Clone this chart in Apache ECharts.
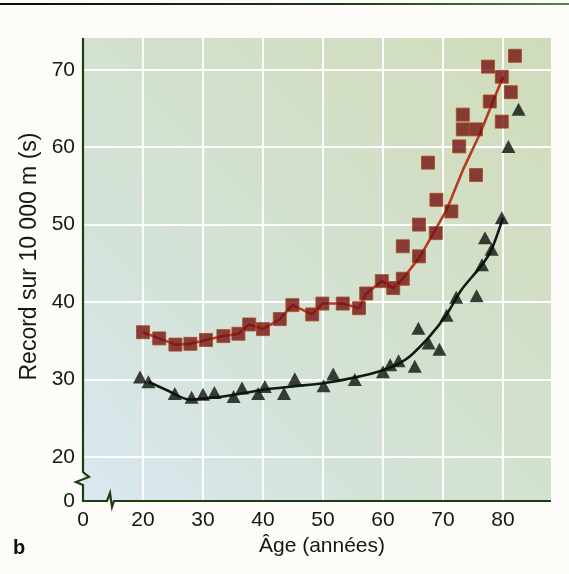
<!DOCTYPE html>
<html>
<head>
<meta charset="utf-8">
<script src="https://cdn.jsdelivr.net/npm/echarts@6/dist/echarts.min.js"></script>
<style>
  html, body { margin: 0; padding: 0; background: #fdfcf8; }
  #chart { width: 569px; height: 574px; }
</style>
</head>
<body>
<div id="chart"></div>
<script>
// axis range (the 0 labels sit on the axis break)
const xMin = 10, xMax = 88;
const yMin = 14.3, yMax = 74.1;

// squares : records (hommes, carrés rouges)
const ageSquares = [20, 22.7, 25.4, 27.9, 30.5, 33.4, 35.9, 37.7, 40.0, 42.8, 44.9, 48.2, 49.9, 53.3, 56.0, 57.2, 59.8, 61.7,
  63.3, 63.3, 66.0, 66.0, 67.5, 68.8, 68.9, 71.4, 72.7, 73.3, 73.3, 75.5, 75.5, 77.5, 77.8, 79.8, 79.8, 81.3, 82.0];
const recSquares = [36.1, 35.3, 34.5, 34.6, 35.1, 35.6, 35.9, 37.1, 36.5, 37.8, 39.6, 38.4, 39.8, 39.8, 39.2, 41.1, 42.7, 41.8,
  47.2, 43.0, 45.9, 50.0, 58.0, 48.9, 53.2, 51.7, 60.1, 62.3, 64.2, 62.3, 56.4, 70.4, 65.9, 69.1, 63.3, 67.1, 71.8];

// triangles
const ageTriangles = [19.5, 20.9, 25.3, 28.1, 30.0, 31.9, 35.1, 36.5, 39.2, 40.3, 43.5, 45.3, 50.1, 51.7, 55.3, 60.0, 61.2, 62.6,
  65.3, 65.9, 67.6, 69.4, 70.6, 72.2, 75.6, 76.5, 77.0, 78.1, 79.8, 80.9, 82.6];
const recTriangles = [30.3, 29.7, 28.2, 27.7, 28.1, 28.3, 27.8, 28.9, 28.2, 29.1, 28.2, 30.1, 29.2, 30.7, 30.0, 31.0, 31.9, 32.4,
  31.7, 36.6, 34.7, 33.9, 38.3, 40.6, 40.8, 44.8, 48.3, 46.8, 50.9, 60.1, 64.9];

// trend lines
const ageLineRed = [20, 22.7, 25.4, 27.9, 30.5, 33.4, 35.9, 37.7, 40.0, 42.8, 44.9, 48.2, 49.9, 53.3, 56.0, 57.2, 59.8, 61.7,
  63.3, 66.2, 68.4, 70.6, 73.4, 76.2, 80];
const recLineRed = [36.1, 35.3, 34.5, 34.6, 35.1, 35.6, 35.9, 37.1, 36.5, 37.8, 39.6, 38.4, 39.8, 39.8, 39.2, 41.1, 42.7, 41.8,
  43.0, 45.9, 48.9, 51.9, 57.2, 61.8, 69.1];
const ageLineBlack = [20.9, 24, 27.8, 31, 35, 40.3, 45, 50, 55, 60, 62.5, 64.5, 67.8, 70.6, 73, 76.5, 78.1, 80];
const recLineBlack = [29.7, 28.6, 27.4, 27.6, 28.0, 28.7, 29.1, 29.5, 30.2, 31.2, 32.0, 33.0, 35.6, 38.4, 41.5, 44.8, 46.8, 50.9];

const zip = (xs, ys) => xs.map((x, i) => [x, ys[i]]);

const textColor = '#131a0d';
const axisColor = '#1e3d10';

const chart = echarts.init(document.getElementById('chart'));

const option = {
  backgroundColor: '#fdfcf8',
  animation: false,
  grid: {
    left: 83,
    right: 18,
    top: 38,
    bottom: 73,
    show: true,
    borderWidth: 0,
    backgroundColor: new echarts.graphic.LinearGradient(0, 1, 1, 0, [
      { offset: 0, color: '#dae8f2' },
      { offset: 0.3, color: '#d4e3da' },
      { offset: 0.7, color: '#d2dfc6' },
      { offset: 1, color: '#cfdcb9' }
    ])
  },
  xAxis: {
    type: 'value',
    min: xMin,
    max: xMax,
    splitNumber: 8,
    name: 'Âge (années)',
    nameLocation: 'middle',
    nameGap: 35,
    nameTextStyle: { fontFamily: 'Liberation Sans', fontSize: 21, color: textColor, padding: [0, 0, 0, 10] },
    axisLine: { show: false },
    axisTick: { show: false },
    axisLabel: {
      fontFamily: 'Liberation Sans',
      fontSize: 21,
      color: textColor,
      margin: 9,
      showMaxLabel: false,
      formatter: v => (v === xMin ? '0' : String(v))
    },
    splitLine: { show: true, showMinLine: false, showMaxLine: false, lineStyle: { color: '#ffffff', width: 2 } }
  },
  yAxis: {
    type: 'value',
    min: yMin,
    max: yMax,
    splitNumber: 6,
    name: 'Record sur 10 000 m (s)',
    nameLocation: 'middle',
    nameGap: 41,
    nameTextStyle: { fontFamily: 'Liberation Sans', fontSize: 23, color: textColor, padding: [0, 0, 0, 26] },
    axisLine: { show: false },
    axisTick: { show: false },
    axisLabel: {
      fontFamily: 'Liberation Sans',
      fontSize: 21,
      color: textColor,
      margin: 8,
      showMaxLabel: false,
      formatter: v => (v < 15 ? '0' : (v > 71 ? '' : String(v)))
    },
    splitLine: { show: true, showMinLine: false, showMaxLine: false, lineStyle: { color: '#ffffff', width: 2 } }
  },
  series: [
    {
      type: 'line',
      data: zip(ageLineRed, recLineRed),
      showSymbol: false,
      lineStyle: { color: '#b83a22', width: 2.6 },
      z: 2
    },
    {
      type: 'line',
      data: zip(ageLineBlack, recLineBlack),
      showSymbol: false,
      smooth: 0.3,
      lineStyle: { color: '#111a0e', width: 2.6 },
      z: 2
    },
    {
      type: 'scatter',
      data: zip(ageSquares, recSquares),
      symbol: 'rect',
      symbolSize: 13,
      itemStyle: { color: '#741111', borderColor: '#a84a1c', borderWidth: 1 },
      z: 3
    },
    {
      type: 'scatter',
      data: zip(ageTriangles, recTriangles),
      symbol: 'triangle',
      symbolSize: [14, 13],
      itemStyle: { color: '#0d120b' },
      z: 3
    }
  ]
};

chart.setOption(option);

// axis lines with the break marks, placed from the axis scale
const o = chart.convertToPixel({ gridIndex: 0 }, [xMin, yMin]);
const t = chart.convertToPixel({ gridIndex: 0 }, [xMin, yMax]);
const r = chart.convertToPixel({ gridIndex: 0 }, [xMax, yMin]);
const ox = o[0], oy = o[1];

chart.setOption({
  graphic: [
    {
      type: 'polyline',
      z: 100,
      shape: {
        points: [
          [ox, t[1]], [ox, oy - 29], [ox + 6, oy - 24], [ox - 7, oy - 19], [ox, oy - 16], [ox, oy],
          [ox + 24, oy], [ox + 27, oy - 8], [ox + 29, oy + 6], [ox + 31, oy], [r[0], oy]
        ]
      },
      style: { stroke: axisColor, lineWidth: 2.2, fill: null, lineJoin: 'miter' }
    },
    {
      type: 'rect',
      z: 100,
      shape: { x: 0, y: 3, width: 569, height: 2 },
      style: {
        fill: new echarts.graphic.LinearGradient(0, 0, 1, 0, [
          { offset: 0, color: '#0c0c0a' },
          { offset: 0.6, color: '#1f3a18' },
          { offset: 1, color: '#4c8c3c' }
        ])
      }
    },
    {
      type: 'text',
      z: 100,
      left: 13,
      top: 538,
      style: { text: 'b', fontFamily: 'Liberation Sans', fontWeight: 'bold', fontSize: 20, fill: '#111111' }
    }
  ]
});

window.addEventListener('resize', () => chart.resize());
</script>
</body>
</html>
